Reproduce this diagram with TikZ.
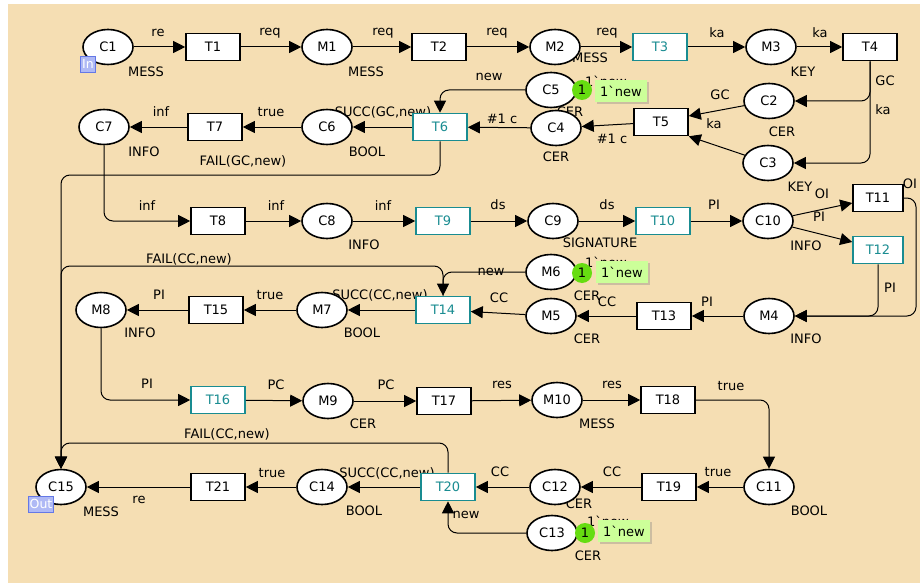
\documentclass[tikz,border=0pt]{standalone}
\usepackage{fontspec}
\newfontfamily\cpnfont{DejaVu Sans}
\usepackage{tikz}
\usetikzlibrary{arrows.meta,shapes.geometric,shadows}
\definecolor{canvas}{RGB}{245,222,179}
\definecolor{cpnteal}{RGB}{25,140,145}
\definecolor{tokgreen}{RGB}{102,221,17}
\definecolor{taggreen}{RGB}{204,255,153}
\definecolor{portblue}{RGB}{100,120,230}
\definecolor{portfill}{RGB}{175,185,245}

\begin{document}
\begin{tikzpicture}[x=1pt,y=-1pt,
    font=\cpnfont\fontsize{13}{15}\selectfont,
    placenode/.style={ellipse,draw,line width=1.6pt,fill=white,minimum width=50pt,minimum height=35pt,inner sep=0pt},
    transnode/.style={rectangle,draw,line width=1.6pt,fill=white,minimum width=54pt,minimum height=27pt,inner sep=0pt},
    substnode/.style={transnode,draw=cpnteal,text=cpnteal},
    cpnarc/.style={-{Triangle[length=12pt,width=12pt]},line width=1pt,rounded corners=9pt},
    lbl/.style={inner sep=0pt},
    tokdot/.style={circle,fill=tokgreen,inner sep=0pt,minimum size=20pt},
    toktag/.style={fill=taggreen,inner sep=2pt,minimum width=52pt,minimum height=22pt,
        drop shadow={opacity=0.35,shadow xshift=2pt,shadow yshift=-2pt}},
    portbox/.style={draw=portblue,fill=portfill,text=white,line width=0.8pt,inner sep=1.5pt,
        minimum height=16pt,font=\cpnfont\fontsize{12.5}{13}\selectfont}
]
\useasboundingbox (0,0) rectangle (920,583);

% Canvas
\fill[white] (0,0) rectangle (920,583);
\fill[canvas] (8,4) rectangle (920,583);

% Colour sets and arc inscriptions (drawn first, nodes sit on top)
\node[lbl] (aC1T1) at (158,33) {re};
\node[lbl] (aT1M1) at (270,33) {req};
\node[lbl] (aM1T2) at (383,33) {req};
\node[lbl] (aT2M2) at (497,33) {req};
\node[lbl] (aM2T3) at (607,33) {req};
\node[lbl] (aT3M3) at (717,33) {ka};
\node[lbl] (aM3T4) at (820,33) {ka};
\node[lbl] (sC1) at (146,72) {MESS};
\node[lbl] (sM1) at (366,72) {MESS};
\node[lbl] (sM2) at (590,58) {MESS};
\node[lbl] (sM3) at (803,72) {KEY};

\node[lbl] (aC5T6) at (489,77) {new};
\node[lbl] (sC5) at (570,112) {CER};
\node[lbl] (aC4T6) at (502,119) {\#1 c};
\node[lbl] (aT5C4) at (612,139) {\#1 c};
\node[lbl] (sC4) at (556,157) {CER};
\node[lbl] (aC2T5) at (720,95) {GC};
\node[lbl] (aC3T5) at (714,124) {ka};
\node[lbl] (sC2) at (782,132) {CER};
\node[lbl] (aT4C2) at (885,81) {GC};
\node[lbl] (aT4C3) at (883,110) {ka};
\node[lbl] (sC3) at (800,187) {KEY};
\node[lbl] (aT6C6) at (383,112) {SUCC(GC,new)};
\node[lbl] (sC6) at (367,152) {BOOL};
\node[lbl] (aC6T7) at (271,112) {true};
\node[lbl] (aT6C15) at (243,161) {FAIL(GC,new)};
\node[lbl] (aT7C7) at (161,112) {inf};
\node[lbl] (sC7) at (144,152) {INFO};

\node[lbl] (aC7T8) at (147,206) {inf};
\node[lbl] (aT8C8) at (276,206) {inf};
\node[lbl] (sC8) at (364,245) {INFO};
\node[lbl] (aC8T9) at (383,206) {inf};
\node[lbl] (aT9C9) at (498,205) {ds};
\node[lbl] (aC9T10) at (607,205) {ds};
\node[lbl] (sC9) at (600,243) {SIGNATURE};
\node[lbl] (aT10C10) at (714,205) {PI};
\node[lbl] (sC10) at (806,246) {INFO};
\node[lbl] (aC10T11) at (822,194) {OI};
\node[lbl] (aC10T12) at (819,217) {PI};
\node[lbl] (aT11M4) at (910,184) {OI};
\node[lbl] (aT12M4) at (890,288) {PI};

\node[lbl] (aT14C15) at (189,259) {FAIL(CC,new)};
\node[lbl] (aM6T14) at (491,272) {new};
\node[lbl] (sM6) at (587,296) {CER};
\node[lbl] (aT13M5) at (607,302) {CC};
\node[lbl] (aM5T14) at (499,298) {CC};
\node[lbl] (sM5) at (587,339) {CER};
\node[lbl] (aM4T13) at (707,302) {PI};
\node[lbl] (sM4) at (806,339) {INFO};
\node[lbl] (aT14M7) at (380,295) {SUCC(CC,new)};
\node[lbl] (sM7) at (362,333) {BOOL};
\node[lbl] (aM7T15) at (270,295) {true};
\node[lbl] (aT15M8) at (159,295) {PI};
\node[lbl] (sM8) at (140,333) {INFO};

\node[lbl] (aM8T16) at (147,384) {PI};
\node[lbl] (aT16M9) at (276,385) {PC};
\node[lbl] (sM9) at (363,424) {CER};
\node[lbl] (aM9T17) at (386,385) {PC};
\node[lbl] (aT17M10) at (502,385) {res};
\node[lbl] (aM10T18) at (612,385) {res};
\node[lbl] (sM10) at (597,424) {MESS};
\node[lbl] (aT18C11) at (731,386) {true};
\node[lbl] (aT20C15) at (227,434) {FAIL(CC,new)};

\node[lbl] (aC11T19) at (718,472) {true};
\node[lbl] (sC11) at (809,511) {BOOL};
\node[lbl] (aT19C12) at (612,472) {CC};
\node[lbl] (sC12) at (579,504) {CER};
\node[lbl] (aC12T20) at (500,472) {CC};
\node[lbl] (aC13T20) at (466,515) {new};
\node[lbl] (sC13) at (588,556) {CER};
\node[lbl] (aT20C14) at (387,473) {SUCC(CC,new)};
\node[lbl] (sC14) at (364,511) {BOOL};
\node[lbl] (aC14T21) at (272,473) {true};
\node[lbl] (aT21C15) at (139,500) {re};
\node[lbl] (sC15) at (101,512) {MESS};

% Initial markings (mostly hidden behind the token tags)
\node[lbl] (iC5) at (606,81) {1`new};
\node[lbl] (iM6) at (606,262) {1`new};
\node[lbl] (iC13) at (608,521) {1`new};

% Places
\node[placenode] (C1) at (108,47) {C1};
\node[placenode] (M1) at (327,47) {M1};
\node[placenode] (M2) at (555,47) {M2};
\node[placenode] (M3) at (771,47) {M3};
\node[placenode] (C5) at (551,90) {C5};
\node[placenode] (C2) at (769,101) {C2};
\node[placenode] (C4) at (556,128) {C4};
\node[placenode] (C6) at (327,127) {C6};
\node[placenode] (C7) at (104,127) {C7};
\node[placenode] (C3) at (768,163) {C3};
\node[placenode] (C8) at (327,221) {C8};
\node[placenode] (C9) at (553,221) {C9};
\node[placenode] (C10) at (768,221) {C10};
\node[placenode] (M6) at (551,272) {M6};
\node[placenode] (M5) at (551,316) {M5};
\node[placenode] (M4) at (769,316) {M4};
\node[placenode] (M7) at (322,310) {M7};
\node[placenode] (M8) at (101,310) {M8};
\node[placenode] (M9) at (328,401) {M9};
\node[placenode] (M10) at (557,400) {M10};
\node[placenode] (C11) at (769,487) {C11};
\node[placenode] (C12) at (555,487) {C12};
\node[placenode] (C13) at (552,533) {C13};
\node[placenode] (C14) at (322,487) {C14};
\node[placenode] (C15) at (61,487) {C15};

% Transitions
\node[transnode] (T1) at (213,47) {T1};
\node[transnode] (T2) at (439,47) {T2};
\node[substnode] (T3) at (660,47) {T3};
\node[transnode] (T4) at (870,47) {T4};
\node[transnode] (T5) at (661,122) {T5};
\node[substnode] (T6) at (440,127) {T6};
\node[transnode] (T7) at (215,127) {T7};
\node[transnode] (T8) at (218,221) {T8};
\node[substnode] (T9) at (443,221) {T9};
\node[substnode] (T10) at (663,221) {T10};
\node[transnode,minimum width=50pt] (T11) at (878,198) {T11};
\node[substnode,minimum width=50pt] (T12) at (878,250) {T12};
\node[transnode] (T13) at (664,316) {T13};
\node[substnode] (T14) at (443,310) {T14};
\node[transnode] (T15) at (216,310) {T15};
\node[substnode] (T16) at (218,400) {T16};
\node[transnode] (T17) at (444,401) {T17};
\node[transnode] (T18) at (668,400) {T18};
\node[transnode] (T19) at (669,487) {T19};
\node[substnode] (T20) at (448,487) {T20};
\node[transnode] (T21) at (218,487) {T21};

% Port tags
\node[portbox] (pIn) at (88,64) {In};
\node[portbox] (pOut) at (41,504) {Out};

% Bends of the long arcs
\coordinate (fGC) at (0,175);
\coordinate (fCC1) at (0,266);
\coordinate (fCC2) at (0,443);
\coordinate (rOI) at (916,198);

% Arcs
\draw[cpnarc] (C1) -- (T1);
\draw[cpnarc] (T1) -- (M1);
\draw[cpnarc] (M1) -- (T2);
\draw[cpnarc] (T2) -- (M2);
\draw[cpnarc] (M2) -- (T3);
\draw[cpnarc] (T3) -- (M3);
\draw[cpnarc] (M3) -- (T4);
\draw[cpnarc] (T4.south) |- (C2.east);
\draw[cpnarc] (T4.south) |- (C3.east);
\draw[cpnarc] (C2) -- ([yshift=6pt]T5.east);
\draw[cpnarc] (C3) -- (T5.south east);
\draw[cpnarc] (T5) -- (C4);
\draw[cpnarc] (C4) -- (T6);
\draw[cpnarc] (C5.west) -| (T6.north);
\draw[cpnarc] (T6) -- (C6);
\draw[cpnarc] (C6) -- (T7);
\draw[cpnarc] (T7) -- (C7);
\draw[cpnarc] (T6.south) |- (C15.north |- fGC) -- (C15.north);
\draw[cpnarc] (C7.south) |- (T8.west);
\draw[cpnarc] (T8) -- (C8);
\draw[cpnarc] (C8) -- (T9);
\draw[cpnarc] (T9) -- (C9);
\draw[cpnarc] (C9) -- (T10);
\draw[cpnarc] (T10) -- (C10);
\draw[cpnarc] (C10) -- ([yshift=-5pt]T11.west);
\draw[cpnarc] (C10) -- ([yshift=8pt]T12.west);
\draw[cpnarc] (T11.east) -- (rOI) |- (M4.east);
\draw[cpnarc] (T12.south) |- (M4.east);
\draw[cpnarc] (M4) -- (T13);
\draw[cpnarc] (T13) -- (M5);
\draw[cpnarc] (M5) -- (T14);
\draw[cpnarc] (M6.west) -| (T14.north);
\draw[cpnarc] (T14.north) |- (C15.north |- fCC1) -- (C15.north);
\draw[cpnarc] (T14) -- (M7);
\draw[cpnarc] (M7) -- (T15);
\draw[cpnarc] (T15) -- (M8);
\draw[cpnarc] (M8.south) |- (T16.west);
\draw[cpnarc] (T16) -- (M9);
\draw[cpnarc] (M9) -- (T17);
\draw[cpnarc] (T17) -- (M10);
\draw[cpnarc] (M10) -- (T18);
\draw[cpnarc] (T18.east) -| (C11.north);
\draw[cpnarc] (C11) -- (T19);
\draw[cpnarc] (T19) -- (C12);
\draw[cpnarc] (C12) -- (T20);
\draw[cpnarc] (C13.west) -| (T20.south);
\draw[cpnarc] (T20.north) |- (C15.north |- fCC2) -- (C15.north);
\draw[cpnarc] (T20) -- (C14);
\draw[cpnarc] (C14) -- (T21);
\draw[cpnarc] (T21) -- (C15);

% Tokens
\node[toktag] (gC5) at (621,91) {1`new};
\node[tokdot] (kC5) at (582,90) {1};
\node[toktag] (gM6) at (622,272) {1`new};
\node[tokdot] (kM6) at (582,273) {1};
\node[toktag] (gC13) at (624,531) {1`new};
\node[tokdot] (kC13) at (585,533) {1};

\end{tikzpicture}
\end{document}
